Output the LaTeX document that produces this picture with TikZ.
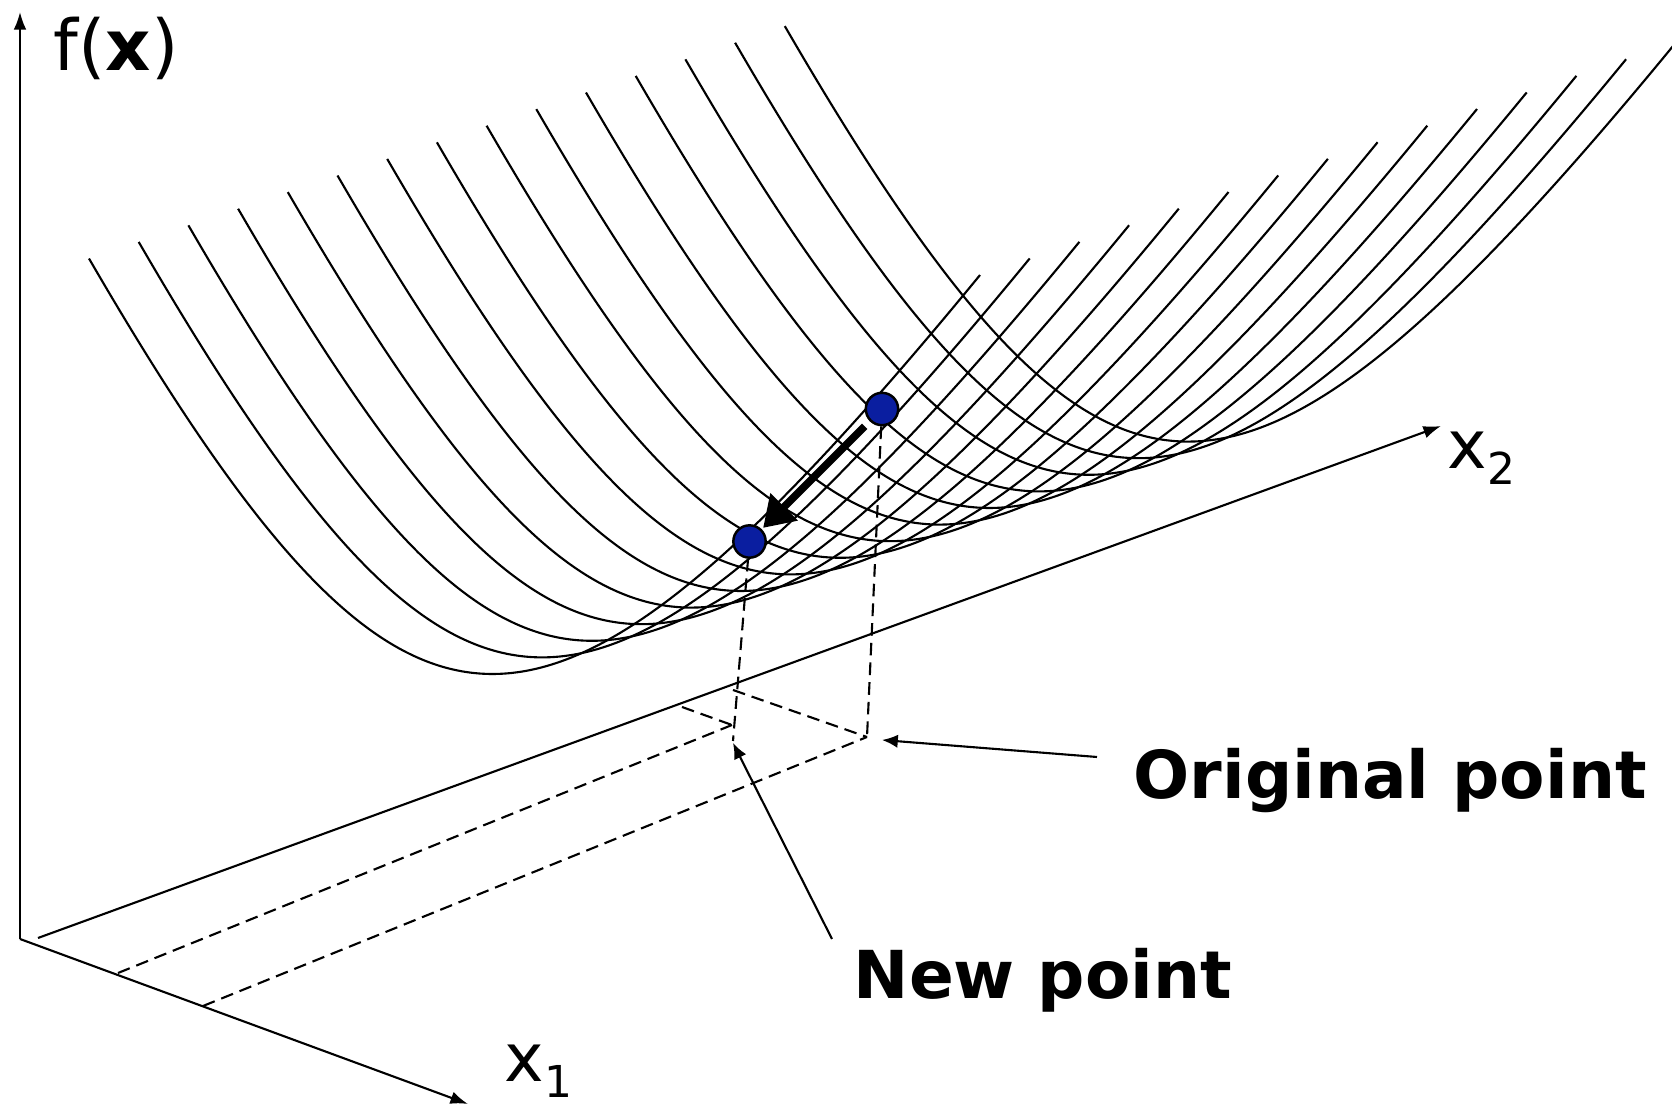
\documentclass[tikz,border=0pt]{standalone}
\usepackage{fontspec}
\setmainfont{DejaVu Sans}
\usepackage{tikz}
\usetikzlibrary{
  arrows.meta % Latex、Triangle 箭头
}
\definecolor{ptblue}{RGB}{10,30,160}
\newcommand{\lowsub}[1]{\raisebox{-4.4pt}{\fontsize{12.5}{12.5}\selectfont #1}}
\tikzset{
  axis line/.style={
    -{Latex[length=5pt,width=3.6pt]},
    line width=0.6pt
  },
  bowl curve/.style={
    line width=0.6pt
  },
  drop line/.style={
    dash pattern=on 3.6pt off 2pt,
    line width=0.6pt
  },
  iterate dot/.style={
    circle,
    fill=ptblue,
    draw=black,
    line width=0.7pt,
    minimum size=9.2pt,
    inner sep=0pt
  },
  step arrow/.style={
    -{Triangle[length=8.5pt,width=10.5pt]},
    line width=2.2pt
  },
  callout arrow/.style={
    -{Latex[length=4.5pt,width=3.8pt]},
    line width=0.6pt
  },
  axis label/.style={
    font=\fontsize{19}{19}\selectfont,
    inner sep=0pt,
    anchor=base west
  },
  callout label/.style={
    font=\fontsize{18.8}{19}\selectfont\bfseries,
    inner sep=0pt,
    anchor=base west
  }
}

\begin{document}
\begin{tikzpicture}[x=0.01cm, y=-0.01cm] % 以像素为单位，y 轴向下

  \useasboundingbox (0,0) rectangle (1672,1104); % 固定画幅

  % 坐标轴
  \coordinate (O) at (20,939); % 原点
  \coordinate (ztip) at (20,12); % f(x) 轴端点
  \coordinate (x1tip) at (468,1104); % x1 轴端点
  \coordinate (x2foot) at (38,938); % x2 轴起点
  \coordinate (x2tip) at (1441,426); % x2 轴端点
  \draw[axis line] (O) -- (ztip);
  \draw[axis line] (O) -- (x1tip);
  \draw[axis line] (x2foot) -- (x2tip);

  % 曲面：15 条相同的截线（斜投影的双曲线形），沿 x2 方向平移
  \foreach \k in {0,...,14}
    \draw[bowl curve, shift={(\k*49.7,-\k*16.6)}]
      plot[domain=89:980, samples=90, smooth]
      (\x, {1046.5 + 0.368*\x - 180.7*sqrt(9 + ((\x-430)/100)^2)});

  % 地面上的投影点
  \coordinate (Og) at (867,737); % 原始点的投影
  \coordinate (Ng) at (732,725); % 新点的投影
  \coordinate (Nfoot) at (733,741); % 新点竖线下端
  \coordinate (b1) at (118,973); % x1 轴上的刻度
  \coordinate (b2) at (203,1006);
  \coordinate (a1) at (733,690); % x2 轴上的刻度
  \coordinate (a2) at (682,707);

  % 两个迭代点与下降方向
  \node[iterate dot] (orig) at (882,409) {};
  \node[iterate dot] (new) at (749.5,541.5) {};
  \draw[step arrow, shorten <=2pt, shorten >=0.5pt] (orig) -- (new);

  % 虚线投影
  \draw[drop line] (orig) -- (Og);
  \draw[drop line] (new) -- (Nfoot);
  \draw[drop line] (b1) -- (Ng);
  \draw[drop line] (b2) -- (Og);
  \draw[drop line] (a1) -- (Og);
  \draw[drop line] (a2) -- (Ng);

  % 轴标签
  \node[axis label, font=\fontsize{20}{20}\selectfont] (fx) at (53,71) {f(\textbf{x})};
  \node[axis label] (x1lbl) at (504,1082) {x\lowsub{1}};
  \node[axis label] (x2lbl) at (1447,469) {x\lowsub{2}};

  % 说明文字与指示箭头
  \node[callout label] (origlbl) at (1133,799) {Original point};
  \node[callout label] (newlbl) at (853,999) {New point};
  \coordinate (origtail) at (1097,757);
  \coordinate (origtip) at (882,740);
  \coordinate (newtail) at (832,939);
  \coordinate (newtip) at (733,743);
  \draw[callout arrow] (origtail) -- (origtip);
  \draw[callout arrow] (newtail) -- (newtip);

\end{tikzpicture}
\end{document}
